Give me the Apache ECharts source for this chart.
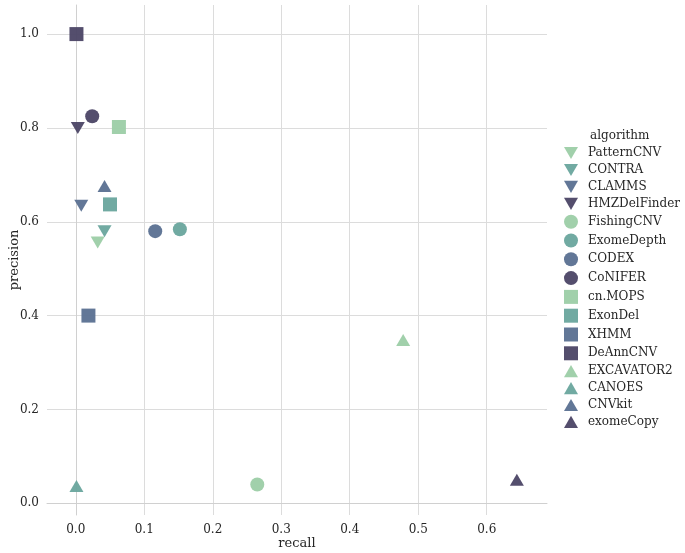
<!DOCTYPE html>
<html><head><meta charset="utf-8">
<script src="https://cdn.jsdelivr.net/npm/echarts@6/dist/echarts.min.js"></script>
<style>html,body{margin:0;padding:0;background:#fff}#c{width:685px;height:553px}</style>
</head><body><div id="c"></div>
<script>
const algorithms = ['PatternCNV','CONTRA','CLAMMS','HMZDelFinder','FishingCNV','ExomeDepth','CODEX','CoNIFER','cn.MOPS','ExonDel','XHMM','DeAnnCNV','EXCAVATOR2','CANOES','CNVkit','exomeCopy'];
const recall    = [0.032, 0.042, 0.008, 0.003, 0.265, 0.152, 0.116, 0.024, 0.063, 0.050, 0.0185, 0.001, 0.478, 0.001, 0.042, 0.644];
const precision = [0.556, 0.580, 0.634, 0.800, 0.040, 0.584, 0.580, 0.825, 0.802, 0.637, 0.400, 1.000, 0.348, 0.037, 0.676, 0.050];

const palette = ['#9ccea6', '#69a59d', '#5a7091', '#4b4465'];
const downTri = 'path://M0,0 L10,0 L5,8.66 Z';
const upTri = 'path://M5,0 L10,8.66 L0,8.66 Z';
const shapes = [downTri, 'circle', 'rect', upTri];
const FONT = '"DejaVu Serif", serif';

const series = algorithms.map((name, i) => ({
  name: name,
  type: 'scatter',
  data: [[recall[i], precision[i]]],
  symbol: shapes[Math.floor(i / 4)],
  symbolSize: shapes[Math.floor(i / 4)] === 'rect' ? 14 : (shapes[Math.floor(i / 4)] === 'circle' ? 14 : [14, 12]),
  itemStyle: { color: palette[i % 4], opacity: 0.95 },
  emphasis: { disabled: true }
}));

const chart = echarts.init(document.getElementById('c'));
chart.setOption({
  animation: false,
  textStyle: { fontFamily: FONT },
  grid: { left: 47, right: 138, top: 5, bottom: 38, containLabel: false, outerBoundsMode: 'none' },
  xAxis: {
    type: 'value', min: -0.042, max: 0.688, splitNumber: 7,
    name: 'recall', nameLocation: 'middle', nameGap: 22, nameMoveOverlap: false,
    nameTextStyle: { fontFamily: FONT, fontSize: 13, color: '#262626' },
    axisLine: { show: true, lineStyle: { color: '#d0d0d0', width: 1 } },
    axisTick: { show: false },
    axisLabel: { fontFamily: FONT, fontSize: 12, color: '#262626', margin: 9, showMinLabel: false, showMaxLabel: false, formatter: v => v.toFixed(1) },
    splitLine: { show: true, showMinLine: false, showMaxLine: false, lineStyle: { color: '#dcdcdc', width: 1 } }
  },
  yAxis: {
    type: 'value', min: -0.025, max: 1.062, splitNumber: 5,
    name: 'precision', nameLocation: 'middle', nameGap: 26, nameMoveOverlap: false,
    nameTextStyle: { fontFamily: FONT, fontSize: 13, color: '#262626' },
    axisLine: { show: true, lineStyle: { color: '#d0d0d0', width: 1 } },
    axisTick: { show: false },
    axisLabel: { fontFamily: FONT, fontSize: 12, color: '#262626', margin: 8, showMinLabel: false, showMaxLabel: false, formatter: v => v.toFixed(1) },
    splitLine: { show: true, showMinLine: false, showMaxLine: false, lineStyle: { color: '#dcdcdc', width: 1 } }
  },
  title: {
    text: 'algorithm', left: 585, top: 125,
    textStyle: { fontFamily: FONT, fontSize: 12, fontWeight: 'normal', color: '#262626' }
  },
  legend: {
    orient: 'vertical', left: 559, top: 142,
    itemWidth: 14, itemHeight: 14, itemGap: 4.8,
    data: algorithms,
    textStyle: { fontFamily: FONT, fontSize: 12, color: '#262626', padding: [0, 0, 0, 5] },
    selectedMode: false
  },
  series: series
});
</script></body></html>
